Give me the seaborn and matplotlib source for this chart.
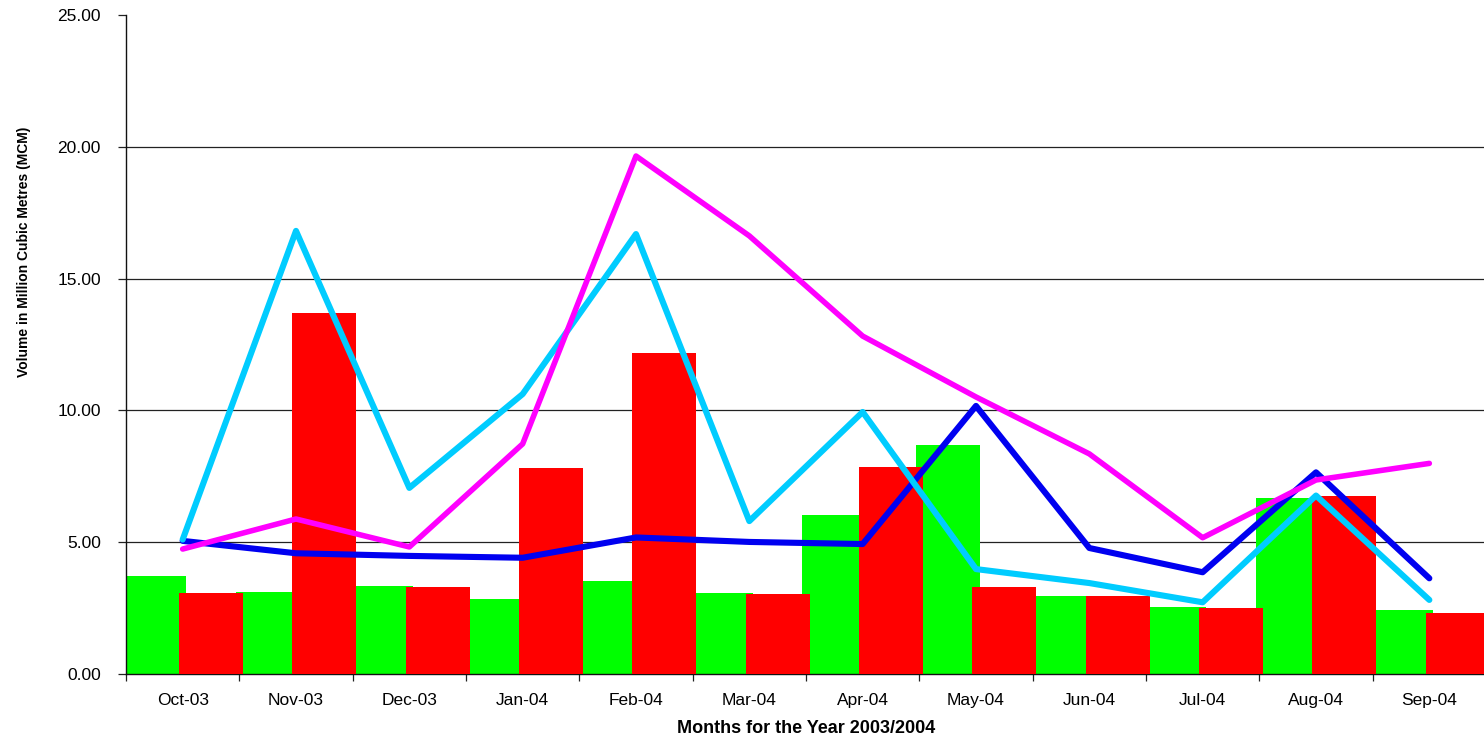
import numpy as np
import pandas as pd
import seaborn as sns
import matplotlib
import matplotlib.pyplot as plt
import matplotlib.ticker as ticker

matplotlib.use("Agg")

months = ["Oct-03", "Nov-03", "Dec-03", "Jan-04", "Feb-04", "Mar-04",
          "Apr-04", "May-04", "Jun-04", "Jul-04", "Aug-04", "Sep-04"]

green_bars = [3.73, 3.12, 3.34, 2.85, 3.53, 3.07, 6.03, 8.69, 2.96, 2.53, 6.69, 2.43]
red_bars = [3.06, 13.69, 3.31, 7.81, 12.18, 3.03, 7.85, 3.30, 2.96, 2.50, 6.74, 2.30]

blue_line = [5.05, 4.58, 4.48, 4.41, 5.18, 5.01, 4.93, 10.17, 4.78, 3.86, 7.65, 3.63]
cyan_line = [5.10, 16.81, 7.06, 10.62, 16.69, 5.80, 9.94, 3.98, 3.45, 2.72, 6.77, 2.81]
magenta_line = [4.74, 5.88, 4.82, 8.73, 19.65, 16.62, 12.82, 10.51, 8.35, 5.17, 7.36, 7.99]

sns.set_style("white")
plt.rcParams["font.family"] = ["Liberation Sans", "DejaVu Sans"]
plt.rcParams["text.color"] = "black"
plt.rcParams["axes.labelcolor"] = "black"
plt.rcParams["xtick.color"] = "black"
plt.rcParams["ytick.color"] = "black"

pos = np.arange(len(months))
df = pd.DataFrame({
    "pos": pos,
    "green": green_bars,
    "red": red_bars,
    "blue": blue_line,
    "cyan": cyan_line,
    "magenta": magenta_line,
})

fig = plt.figure(figsize=(14.84, 7.46), dpi=100)
ax = fig.add_axes([126 / 1484, 72 / 746, 1360 / 1484, 659 / 746])

# bars, slightly overlapping as in the original
bw = 0.565
sns.barplot(x=df["pos"] - 0.25, y=df["green"], native_scale=True, width=bw,
            color="#00FF00", saturation=1, linewidth=0, ax=ax, zorder=2)
sns.barplot(x=df["pos"] + 0.25, y=df["red"], native_scale=True, width=bw,
            color="#FF0000", saturation=1, linewidth=0, ax=ax, zorder=3)

# lines
for col, c, lw in [("blue", "#0000F0", 4.4), ("cyan", "#00CCFF", 4.4),
                   ("magenta", "#FF00FF", 4.0)]:
    sns.lineplot(data=df, x="pos", y=col, color=c, linewidth=lw, ax=ax,
                 solid_capstyle="round", solid_joinstyle="round", zorder=5)

ax.set_xlim(-0.5, 11.5)
ax.set_ylim(0, 25)

# y axis
ax.yaxis.set_major_locator(ticker.MultipleLocator(5))
ax.yaxis.set_major_formatter(ticker.FormatStrFormatter("%.2f"))
for v in [5, 10, 15, 20]:
    ax.axhline(v, color="#222222", linewidth=0.9, zorder=1)
ax.tick_params(axis="y", which="major", direction="out", length=6, width=0.9,
               color="#222222", pad=12, labelsize=12.5, left=True)

# x axis: ticks at boundaries, labels at centres
ax.xaxis.set_major_locator(ticker.FixedLocator(np.arange(-0.5, 12, 1.0)))
ax.xaxis.set_major_formatter(ticker.NullFormatter())
ax.xaxis.set_minor_locator(ticker.FixedLocator(pos))
ax.xaxis.set_minor_formatter(ticker.FixedFormatter(months))
ax.tick_params(axis="x", which="major", direction="out", length=5, width=0.9,
               color="#222222", bottom=True)
ax.tick_params(axis="x", which="minor", length=0, pad=14, labelsize=12.5)

for s in ["top", "right"]:
    ax.spines[s].set_visible(False)
for s in ["left", "bottom"]:
    ax.spines[s].set_color("#111111")
    ax.spines[s].set_linewidth(1.0)

ax.set_xlabel("Months for the Year 2003/2004", fontsize=13, fontweight="bold",
              labelpad=8)
ax.set_ylabel("Volume in Million Cubic Metres (MCM)", fontsize=10,
              fontweight="bold", labelpad=8)
ax.yaxis.set_label_coords(-95 / 1360, (674 - 252) / 659)

plt.savefig("out.png", dpi=100)
plt.close()
